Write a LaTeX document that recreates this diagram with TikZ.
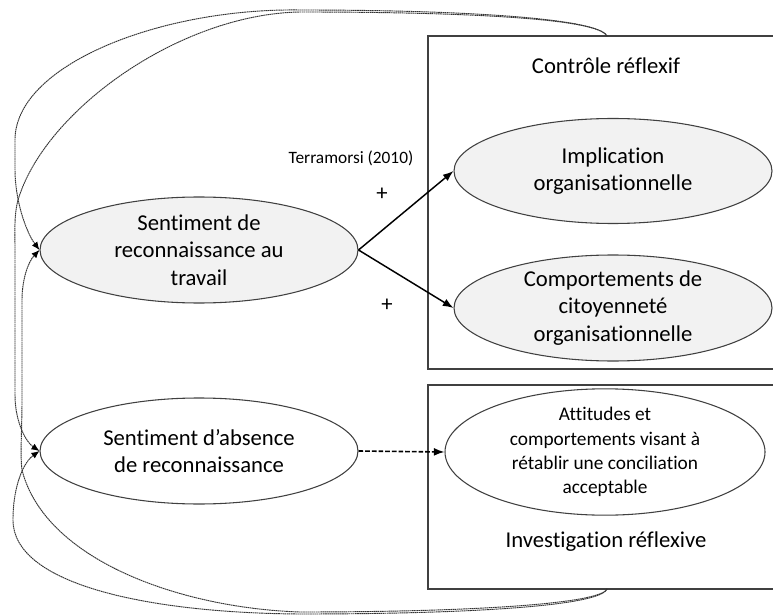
\documentclass[tikz,border=0pt]{standalone}
\usepackage{fontspec}
\setmainfont{Carlito}[Ligatures=NoCommon]
\usetikzlibrary{arrows.meta,shapes.geometric}
\definecolor{ellfill}{RGB}{242,242,242}
\definecolor{edge}{RGB}{64,64,64}
\begin{document}
\begin{tikzpicture}[x=0.75pt,y=-0.75pt,
  ell/.style={ellipse, draw=edge, line width=0.8pt, inner sep=0pt, align=center,
    font=\fontsize{17}{20.6}\selectfont, minimum width=238.5pt, minimum height=79.5pt},
  grayell/.style={ell, fill=ellfill},
  frame/.style={draw=edge, line width=1pt, inner sep=0pt, minimum width=294pt},
  lbl/.style={font=\fontsize{17}{20}\selectfont, inner sep=0pt},
  mainarrow/.style={line width=1.1pt, -{Latex[length=8pt,width=6pt]}},
  dasharrow/.style={line width=1.2pt, dash pattern=on 3.5pt off 1.5pt, -{Latex[length=8pt,width=6pt]}},
  loopline/.style={line width=0.7pt, black!80, dash pattern=on 1.2pt off 0.4pt, -{Latex[length=6pt,width=5pt,color=black]}}
]
\useasboundingbox (0,0) rectangle (773,616);

% boxes (right side runs past the page edge)
\node[frame, minimum height=249.75pt] (ctrl) at (624,202.5) {};
\node[frame, minimum height=153pt] (inv) at (624,487) {};
\coordinate (ctrltop) at (607,36);
\coordinate (invbot) at (607,589);
\node[lbl] (ctrllbl) at (606,66) {Contrôle réflexif};
\node[lbl] (invlbl) at (606,542) {Investigation réflexive};

% ellipses
\node[grayell] (rec) at (199,250) {Sentiment de\\reconnaissance au\\travail};
\node[ell] (abs) at (199,451) {Sentiment d’absence\\de reconnaissance};
\node[grayell, minimum height=78.75pt] (impl) at (613,171) {Implication\\organisationnelle};
\node[grayell] (comp) at (613,308) {Comportements de\\citoyenneté\\organisationnelle};
\node[ell, minimum width=240pt, minimum height=72pt, font=\fontsize{14.5}{18.2}\selectfont] (att) at (605,452)
  {Attitudes et\\comportements visant à\\rétablir une conciliation\\acceptable};

% labels
\node[font=\fontsize{13}{15}\selectfont, inner sep=0pt] (terr) at (351,158) {Terramorsi (2010)};
\node[lbl] (plus1) at (382,194) {+};
\node[lbl] (plus2) at (387,305) {+};

% arrows
\draw[mainarrow] (rec.east) -- (impl.west);
\draw[mainarrow] (rec.east) -- (comp.west);
\draw[dasharrow] (abs.east) -- (att.west);

% feedback loops
\draw[loopline] (ctrltop) .. controls (598,18) and (460,10) .. (300,10)
  .. controls (160,8) and (15,65) .. (15,140) -- (15,170)
  .. controls (15,200) and (26,232) .. (rec.west);
\draw[loopline] (ctrltop) .. controls (598,18) and (460,12) .. (300,12)
  .. controls (180,14) and (45,110) .. (18,200)
  .. controls (14,215) and (15,230) .. (15,250) -- (15,395)
  .. controls (15,422) and (26,442) .. (abs.west);
\draw[loopline] (invbot) .. controls (600,606) and (470,614) .. (300,614)
  .. controls (150,613) and (13,585) .. (13,520)
  .. controls (13,485) and (24,462) .. (abs.west);
\draw[loopline] (invbot) .. controls (600,604) and (470,612) .. (300,612)
  .. controls (180,608) and (45,560) .. (22,470)
  .. controls (20,455) and (22,430) .. (22,400) -- (22,300)
  .. controls (22,280) and (28,262) .. (rec.west);
\end{tikzpicture}
\end{document}
